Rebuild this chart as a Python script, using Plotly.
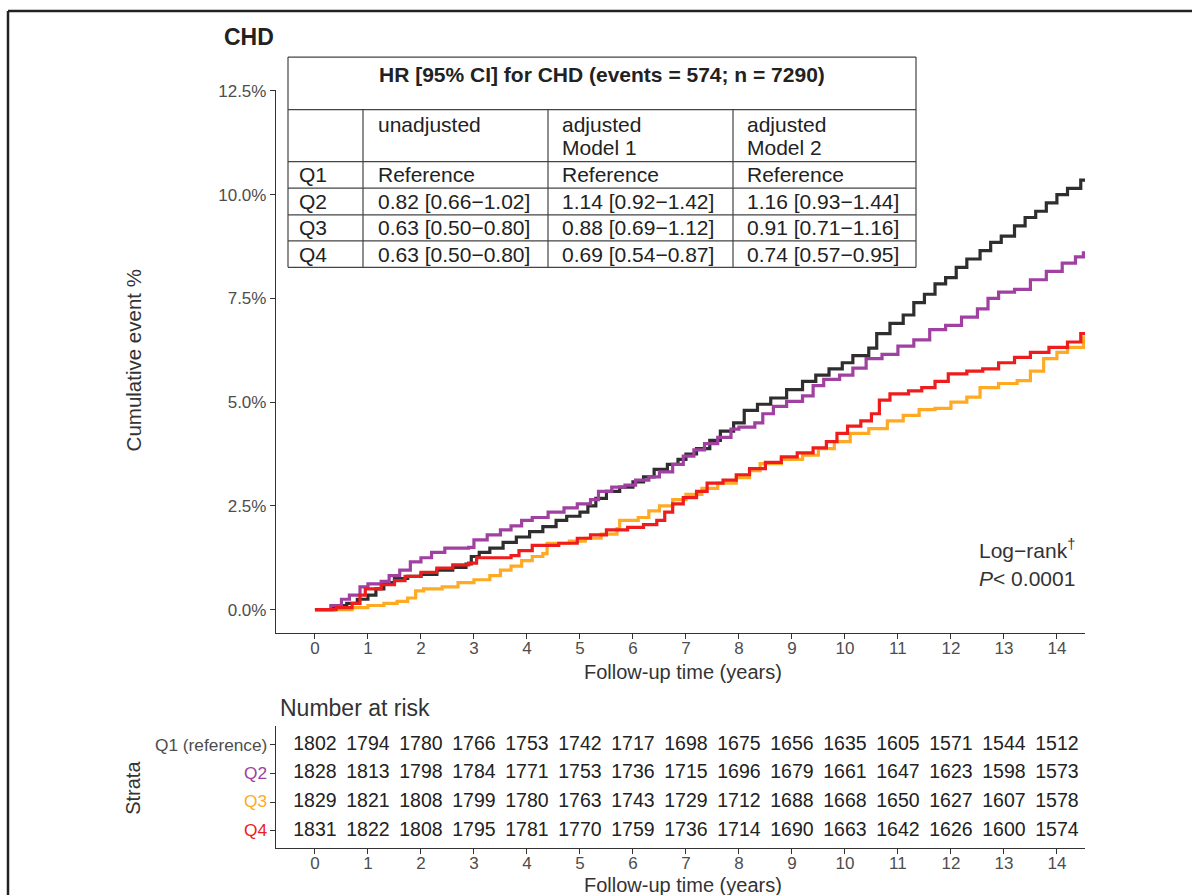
import plotly.graph_objects as go

W, H = 1192, 895
TOP_OFF = 8          # page offset observed at top
VSCALE = 0.99        # observed vertical scale of the rendered page
FONT = "Liberation Sans, Arial, Helvetica, sans-serif"

# ---------------- data ----------------
q1_t = [0, 0.35, 0.6, 0.8, 1.0, 1.15, 1.3, 1.5, 1.75, 2.0, 2.3, 2.6, 2.85, 2.95, 3.1, 3.3, 3.55, 3.8,
        4.05, 4.3, 4.55, 4.75, 5.0, 5.15, 5.3, 5.5, 5.75, 6.0, 6.2, 6.4, 6.65, 6.85, 7.0, 7.2, 7.45,
        7.65, 7.9, 8.1, 8.35, 8.6, 8.9, 9.2, 9.45, 9.7, 9.95, 10.15, 10.45, 10.6, 10.85, 11.1, 11.3,
        11.5, 11.7, 11.9, 12.1, 12.3, 12.55, 12.75, 12.95, 13.2, 13.4, 13.6, 13.8, 14.0, 14.2, 14.45, 14.7]
q1_v = [0, 0.1, 0.15, 0.25, 0.35, 0.5, 0.65, 0.75, 0.8, 0.85, 0.95, 1.02, 1.1, 1.28, 1.38, 1.48, 1.62, 1.75,
        1.88, 2.0, 2.15, 2.25, 2.35, 2.5, 2.68, 2.85, 2.95, 3.08, 3.2, 3.38, 3.5, 3.62, 3.75, 3.88, 4.08,
        4.3, 4.5, 4.8, 4.95, 5.1, 5.3, 5.5, 5.65, 5.8, 5.95, 6.12, 6.3, 6.65, 6.9, 7.1, 7.4,
        7.6, 7.85, 8.0, 8.25, 8.45, 8.65, 8.85, 9.0, 9.25, 9.45, 9.6, 9.8, 10.0, 10.15, 10.35, 10.35]

q2_t = [0, 0.3, 0.5, 0.65, 0.85, 1.0, 1.25, 1.4, 1.6, 1.8, 2.0, 2.2, 2.45, 2.9, 3.0, 3.25, 3.5, 3.7, 3.9,
        4.1, 4.4, 4.7, 4.95, 5.2, 5.35, 5.6, 5.85, 6.05, 6.3, 6.5, 6.75, 6.95, 7.15, 7.35, 7.6, 7.85,
        8.0, 8.3, 8.45, 8.65, 8.9, 9.2, 9.4, 9.6, 9.9, 10.15, 10.4, 10.7, 11.0, 11.3, 11.6, 11.9, 12.2,
        12.5, 12.7, 12.9, 13.2, 13.5, 13.8, 14.1, 14.35, 14.5, 14.7]
q2_v = [0, 0.1, 0.25, 0.35, 0.55, 0.62, 0.68, 0.82, 0.95, 1.15, 1.25, 1.38, 1.48, 1.5, 1.68, 1.8, 1.92, 2.02, 2.15,
        2.22, 2.35, 2.45, 2.55, 2.65, 2.85, 2.95, 3.0, 3.12, 3.2, 3.32, 3.5, 3.7, 3.85, 4.0, 4.15, 4.35,
        4.4, 4.5, 4.72, 4.9, 5.02, 5.15, 5.4, 5.55, 5.65, 5.82, 6.05, 6.15, 6.35, 6.5, 6.75, 6.85, 7.05,
        7.25, 7.5, 7.65, 7.72, 7.95, 8.15, 8.35, 8.5, 8.6, 8.6]

q3_t = [0, 0.7, 1.0, 1.3, 1.55, 1.75, 1.9, 2.05, 2.4, 2.7, 3.0, 3.3, 3.5, 3.7, 3.9, 4.1, 4.3, 4.38, 4.8,
        5.1, 5.4, 5.7, 5.75, 6.1, 6.3, 6.5, 6.75, 7.0, 7.3, 7.6, 7.95, 8.2, 8.4, 8.8, 9.2, 9.5, 9.8,
        10.1, 10.45, 10.8, 11.1, 11.4, 11.7, 12.0, 12.3, 12.55, 12.9, 13.25, 13.5, 13.75, 14.0, 14.2, 14.5, 14.7]
q3_v = [0, 0.05, 0.1, 0.15, 0.2, 0.28, 0.45, 0.5, 0.55, 0.65, 0.72, 0.82, 0.95, 1.05, 1.18, 1.28, 1.35, 1.6, 1.65,
        1.72, 1.82, 1.95, 2.15, 2.22, 2.38, 2.5, 2.65, 2.78, 2.92, 3.05, 3.18, 3.35, 3.52, 3.62, 3.72, 3.88, 4.05,
        4.25, 4.36, 4.55, 4.68, 4.82, 4.85, 5.0, 5.12, 5.35, 5.45, 5.52, 5.75, 6.05, 6.2, 6.32, 6.55, 6.55]

q4_t = [0, 0.4, 0.7, 0.85, 0.95, 1.25, 1.5, 1.7, 2.0, 2.3, 2.6, 2.9, 3.05, 3.7, 3.85, 4.1, 4.6, 4.95, 5.2,
        5.5, 5.9, 6.2, 6.45, 6.6, 6.75, 6.95, 7.2, 7.4, 7.7, 7.95, 8.2, 8.5, 8.8, 9.1, 9.4, 9.65, 9.85,
        10.05, 10.3, 10.5, 10.65, 10.85, 11.2, 11.45, 11.7, 11.95, 12.3, 12.6, 12.9, 13.2, 13.5, 13.85,
        14.2, 14.45, 14.7]
q4_v = [0, 0.05, 0.15, 0.35, 0.5, 0.6, 0.7, 0.8, 0.9, 1.0, 1.08, 1.12, 1.25, 1.3, 1.42, 1.55, 1.6, 1.72, 1.8,
        1.92, 1.98, 2.05, 2.15, 2.35, 2.55, 2.7, 2.85, 3.05, 3.12, 3.25, 3.4, 3.55, 3.68, 3.78, 3.9, 4.05, 4.25,
        4.42, 4.55, 4.72, 5.05, 5.2, 5.27, 5.35, 5.5, 5.68, 5.75, 5.8, 5.95, 6.08, 6.2, 6.32,
        6.45, 6.65, 6.65]

strata = ["Q1 (reference)", "Q2", "Q3", "Q4"]
colors = ["#2e2e2e", "#a040a0", "#ffaa22", "#ee1c1c"]

risk_times = list(range(15))
risk_q1 = [1802, 1794, 1780, 1766, 1753, 1742, 1717, 1698, 1675, 1656, 1635, 1605, 1571, 1544, 1512]
risk_q2 = [1828, 1813, 1798, 1784, 1771, 1753, 1736, 1715, 1696, 1679, 1661, 1647, 1623, 1598, 1573]
risk_q3 = [1829, 1821, 1808, 1799, 1780, 1763, 1743, 1729, 1712, 1688, 1668, 1650, 1627, 1607, 1578]
risk_q4 = [1831, 1822, 1808, 1795, 1781, 1770, 1759, 1736, 1714, 1690, 1663, 1642, 1626, 1600, 1574]

y_ticks = [0, 2.5, 5.0, 7.5, 10.0, 12.5]
y_ticklabels = ["0.0%", "2.5%", "5.0%", "7.5%", "10.0%", "12.5%"]
x_ticks = list(range(15))

hr_title = "HR [95% CI] for CHD (events = 574; n = 7290)"
hr_header1 = ["", "unadjusted", "adjusted", "adjusted"]
hr_header2 = ["", "", "Model 1", "Model 2"]
hr_rows = [
    ["Q1", "Reference", "Reference", "Reference"],
    ["Q2", "0.82 [0.66\u22121.02]", "1.14 [0.92\u22121.42]", "1.16 [0.93\u22121.44]"],
    ["Q3", "0.63 [0.50\u22120.80]", "0.88 [0.69\u22121.12]", "0.91 [0.71\u22121.16]"],
    ["Q4", "0.63 [0.50\u22120.80]", "0.69 [0.54\u22120.87]", "0.74 [0.57\u22120.95]"],
]


def px(x):
    return x / W


def py(y):
    return 1 - ((y - TOP_OFF) / VSCALE) / H


fig = go.Figure()

curves = [(q1_t, q1_v), (q2_t, q2_v), (q3_t, q3_v), (q4_t, q4_v)]
for (t, v), name, c in zip(curves, strata, colors):
    fig.add_trace(go.Scatter(x=t, y=v, mode="lines", line=dict(color=c, width=3.2, shape="hv"),
                             name=name, showlegend=False, xaxis="x", yaxis="y"))

# risk table numbers
risk_rows = [risk_q1, risk_q2, risk_q3, risk_q4]
row_y = [4, 3, 2, 1]
for vals, yy in zip(risk_rows, row_y):
    fig.add_trace(go.Scatter(x=risk_times, y=[yy] * len(risk_times), mode="text",
                             text=[str(v) for v in vals],
                             textfont=dict(family=FONT, size=19.5, color="#222222"),
                             showlegend=False, xaxis="x2", yaxis="y2", hoverinfo="skip"))

axis_common = dict(showgrid=False, zeroline=False, showline=True, linecolor="#333333", linewidth=1.3,
                   ticks="outside", ticklen=5, tickwidth=1.2, tickcolor="#333333",
                   tickfont=dict(family=FONT, size=17, color="#4d4d4d"))

fig.update_layout(
    width=W, height=H, autosize=False,
    margin=dict(l=0, r=0, t=0, b=0),
    paper_bgcolor="white", plot_bgcolor="white",
    xaxis=dict(domain=[px(276), px(1085)], range=[-0.735, 14.53], tickvals=x_ticks,
               ticklabelstandoff=-5, anchor="y", **axis_common),
    yaxis=dict(domain=[py(632), py(90)], range=[-0.555, 12.52], tickvals=y_ticks,
               ticktext=y_ticklabels, anchor="x", **axis_common),
    xaxis2=dict(domain=[px(276), px(1085)], range=[-0.735, 14.53], tickvals=x_ticks,
                ticklabelstandoff=-5, anchor="y2", **axis_common),
    yaxis2=dict(domain=[py(847), py(725)], range=[0.407, 4.663], tickvals=row_y,
                showticklabels=False, anchor="x2", **axis_common),
)

ann = []
shapes = []


def text(x, y, s, size=17, color="#333333", xanchor="center", yanchor="middle", angle=0, bold=False):
    if bold:
        s = "<b>" + s + "</b>"
    ann.append(dict(x=px(x), y=py(y), xref="paper", yref="paper", text=s, showarrow=False,
                    xanchor=xanchor, yanchor=yanchor, textangle=angle, align="left",
                    font=dict(family=FONT, size=size, color=color)))


# titles
text(222, 37, "CHD", size=23, color="#222222", xanchor="left", bold=True)
text(133, 360, "Cumulative event %", size=20.5, angle=-90)
text(683, 671, "Follow-up time (years)", size=20)
text(278, 707, "Number at risk", size=23, xanchor="left")
text(133, 787, "Strata", size=20, angle=-90)
text(683, 884, "Follow-up time (years)", size=20)

# strata labels for risk table
for lab, c, yy in zip(strata, colors, [744, 772, 800, 829]):
    text(269, yy, lab, size=17.3, color=("#4d4d4d" if lab.startswith("Q1") else c), xanchor="right")

# log-rank
text(1077, 548, "Log\u2212rank<sup>\u2020</sup>", size=21, xanchor="right")
text(1077, 578, "<i>P</i>< 0.0001", size=21, xanchor="right")

# HR table
tl, tr = 288, 916
hlines = [57, 109.5, 161.5, 188, 214.7, 240.7, 267]
vcols = [288, 363, 548, 733, 916]
for i, yy in enumerate(hlines):
    shapes.append(dict(type="line", xref="paper", yref="paper", x0=px(tl), x1=px(tr), y0=py(yy), y1=py(yy),
                       line=dict(color="#444444", width=1.2)))
for i, xx in enumerate(vcols):
    y0 = 57 if i in (0, len(vcols) - 1) else 109.5
    shapes.append(dict(type="line", xref="paper", yref="paper", x0=px(xx), x1=px(xx), y0=py(y0), y1=py(267),
                       line=dict(color="#444444", width=1.2)))

text((tl + tr) / 2, 74, hr_title, size=21, color="#222222", bold=True)
pads = [9, 13, 12, 12]
for j in range(4):
    if hr_header1[j]:
        text(vcols[j] + pads[j], 124, hr_header1[j], size=21, color="#222222", xanchor="left")
    if hr_header2[j]:
        text(vcols[j] + pads[j], 147, hr_header2[j], size=21, color="#222222", xanchor="left")
row_centers = [174.5, 201, 227.5, 254]
for r, row in enumerate(hr_rows):
    for j, cell in enumerate(row):
        text(vcols[j] + pads[j], row_centers[r], cell, size=21, color="#222222", xanchor="left")

# outer frame (top and left edges)
shapes.append(dict(type="line", xref="paper", yref="paper", x0=px(8), x1=px(1192), y0=py(11), y1=py(11),
                   line=dict(color="#222222", width=2.5)))
shapes.append(dict(type="line", xref="paper", yref="paper", x0=px(8), x1=px(8), y0=py(11), y1=0,
                   line=dict(color="#222222", width=2.5)))

fig.update_layout(annotations=ann, shapes=shapes)
fig.write_html("out.html", config={"displayModeBar": False},
               post_script="document.body.style.margin='0';document.body.style.overflow='hidden';")
